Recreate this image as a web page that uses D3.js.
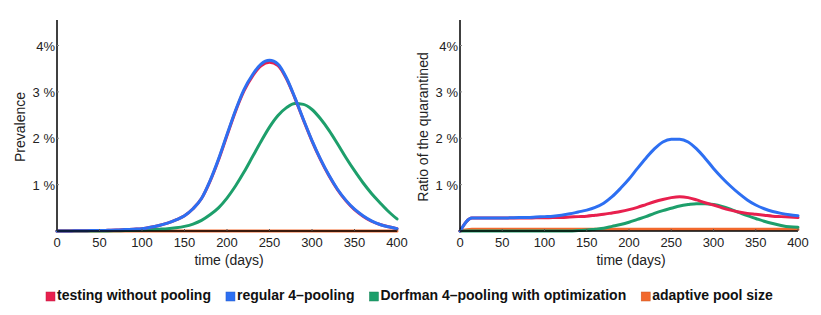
<!DOCTYPE html>
<html lang="en">
<head>
<meta charset="UTF-8">
<title>pooling</title>
<style type="text/css">
  body { margin: 0; background: #fff; }
  svg { font-family: "Liberation Sans", Arial, sans-serif; }
  .tick-label { font-size: 13px; fill: #222; }
  .axis-title { font-size: 14px; fill: #222; }
  .legend text { font-size: 14px; font-weight: bold; fill: #111; }
  .series { fill: none; stroke-width: 3px; stroke-linejoin: round; stroke-linecap: round; }
</style>
</head>
<body>
<svg id="chart" width="821" height="315"></svg>

<script src="https://cdnjs.cloudflare.com/ajax/libs/d3/7.8.5/d3.min.js"></script>
<script>
  "use strict";

  var days = [0, 14, 20, 30, 40, 50, 60, 70, 80, 90, 100, 110, 120, 130, 140, 150, 160, 170, 180, 190, 200,
              210, 220, 230, 240, 250, 260, 270, 280, 290, 300, 310, 320, 330, 340, 350, 360, 370, 380, 390, 400];

  // prevalence (%)
  var prevNoPool   = [0, 0, 0.005, 0.005, 0.01, 0.01, 0.015, 0.02, 0.03, 0.04, 0.05, 0.08, 0.12, 0.17, 0.24, 0.33, 0.48, 0.7, 1.07, 1.53, 2.06,
                      2.58, 3.02, 3.34, 3.56, 3.64, 3.57, 3.28, 2.86, 2.39, 1.94, 1.54, 1.19, 0.89, 0.65, 0.46, 0.32, 0.21, 0.14, 0.09, 0.05];
  var prevRegular  = [0, 0, 0.005, 0.005, 0.01, 0.01, 0.015, 0.02, 0.03, 0.04, 0.05, 0.08, 0.12, 0.17, 0.24, 0.33, 0.48, 0.7, 1.08, 1.55, 2.08,
                      2.6, 3.05, 3.37, 3.6, 3.68, 3.6, 3.3, 2.87, 2.4, 1.95, 1.55, 1.2, 0.9, 0.66, 0.47, 0.33, 0.22, 0.14, 0.09, 0.05];
  var prevDorfman  = [0, 0, 0, 0, 0, 0, 0, 0.005, 0.01, 0.015, 0.02, 0.03, 0.04, 0.05, 0.07, 0.1, 0.15, 0.23, 0.35, 0.5, 0.71,
                      0.97, 1.27, 1.6, 1.93, 2.24, 2.49, 2.66, 2.75, 2.73, 2.62, 2.42, 2.17, 1.88, 1.58, 1.3, 1.04, 0.81, 0.61, 0.42, 0.26];
  var prevAdaptive = [0, 0, 0, 0, 0, 0, 0, 0, 0, 0, 0, 0, 0, 0, 0, 0, 0, 0, 0, 0, 0,
                      0, 0, 0, 0, 0, 0, 0, 0, 0, 0, 0, 0, 0, 0, 0, 0, 0, 0, 0, 0];

  // ratio of the quarantined (%)
  var quarNoPool   = [0, 0.28, 0.28, 0.28, 0.28, 0.28, 0.28, 0.28, 0.28, 0.285, 0.285, 0.29, 0.29, 0.3, 0.31, 0.32, 0.34, 0.36, 0.39, 0.42, 0.46,
                      0.51, 0.57, 0.63, 0.68, 0.72, 0.74, 0.72, 0.67, 0.61, 0.56, 0.5, 0.45, 0.41, 0.38, 0.36, 0.34, 0.32, 0.31, 0.3, 0.29];
  var quarRegular  = [0, 0.28, 0.28, 0.28, 0.28, 0.28, 0.285, 0.29, 0.29, 0.3, 0.31, 0.32, 0.34, 0.37, 0.41, 0.45, 0.51, 0.6, 0.74, 0.92, 1.12,
                      1.35, 1.57, 1.77, 1.92, 1.98, 1.98, 1.92, 1.77, 1.57, 1.35, 1.15, 0.97, 0.81, 0.67, 0.56, 0.48, 0.42, 0.38, 0.35, 0.33];
  var quarDorfman  = [0, 0, 0, 0, 0, 0, 0, 0, 0, 0, 0, 0, 0, 0, 0.01, 0.02, 0.04, 0.06, 0.1, 0.14, 0.19,
                      0.25, 0.31, 0.38, 0.44, 0.49, 0.54, 0.57, 0.59, 0.59, 0.57, 0.53, 0.47, 0.4, 0.33, 0.27, 0.21, 0.16, 0.12, 0.09, 0.08];
  var quarAdaptive = [0, 0.04, 0.04, 0.04, 0.04, 0.04, 0.04, 0.04, 0.04, 0.04, 0.04, 0.04, 0.04, 0.04, 0.04, 0.04, 0.04, 0.04, 0.04, 0.04, 0.04,
                      0.04, 0.04, 0.04, 0.04, 0.04, 0.04, 0.04, 0.04, 0.04, 0.04, 0.04, 0.04, 0.04, 0.04, 0.04, 0.04, 0.04, 0.04, 0.04, 0.04];

  var xTicks = [0, 50, 100, 150, 200, 250, 300, 350, 400];
  var yTicks = [1, 2, 3, 4];
  var yTickLabels = ["1 %", "2 %", "3 %", "4%"];

  var seriesNames = ["testing without pooling", "regular 4\u2013pooling", "Dorfman 4\u2013pooling with optimization", "adaptive pool size"];
  var colors = ["#e8204e", "#2d6ff2", "#1d9f6b", "#f2692d"];

  var svg = d3.select("#chart");

  function panel(left, right, title, values) {
    var x = d3.scaleLinear().domain([0, 400]).range([left, right]);
    var y = d3.scaleLinear().domain([0, 4.55]).range([231, 20]);
    var g = svg.append("g");

    var line = d3.line()
      .x(function(d){ return x(d[0]); })
      .y(function(d){ return y(d[1]); })
      .curve(d3.curveMonotoneX);

    // draw order: adaptive, dorfman, no pooling, regular on top
    [3, 2, 0, 1].forEach(function(k){
      g.append("path")
        .attr("class", "series")
        .attr("stroke", colors[k])
        .attr("d", line(days.map(function(d, i){ return [d, values[k][i]]; })));
    });

    // axes
    g.append("line").attr("x1", x(0)).attr("x2", x(400)).attr("y1", y(0)).attr("y2", y(0))
      .attr("stroke", "#000").attr("stroke-width", 1.5);
    g.append("line").attr("x1", x(0)).attr("x2", x(0)).attr("y1", y(0)).attr("y2", y(4.55))
      .attr("stroke", "#000").attr("stroke-width", 1.5);

    g.selectAll(".xt").data(xTicks).enter().append("line")
      .attr("x1", function(d){ return x(d); }).attr("x2", function(d){ return x(d); })
      .attr("y1", y(0)).attr("y2", y(0) - 2).attr("stroke", "#555");
    g.selectAll(".xl").data(xTicks).enter().append("text")
      .attr("class", "tick-label")
      .attr("x", function(d){ return x(d); })
      .attr("y", 247)
      .attr("text-anchor", "middle")
      .text(function(d){ return d; });

    g.selectAll(".yt").data(yTicks).enter().append("line")
      .attr("x1", x(0)).attr("x2", x(0) + 2)
      .attr("y1", function(d){ return y(d); }).attr("y2", function(d){ return y(d); })
      .attr("stroke", "#888");
    g.selectAll(".yl").data(yTicks).enter().append("text")
      .attr("class", "tick-label")
      .attr("x", x(0) - 2)
      .attr("y", function(d){ return y(d) + 5; })
      .attr("text-anchor", "end")
      .text(function(d, i){ return yTickLabels[i]; });

    g.append("text").attr("class", "axis-title")
      .attr("x", (left + right) / 2 + 2).attr("y", 265)
      .attr("text-anchor", "middle").text("time (days)");
    g.append("text").attr("class", "axis-title")
      .attr("transform", "translate(" + (left - 32) + ",127) rotate(-90)")
      .attr("text-anchor", "middle").text(title);
  }

  panel(57, 397, "Prevalence", [prevNoPool, prevRegular, prevDorfman, prevAdaptive]);
  panel(460, 798, "Ratio of the quarantined", [quarNoPool, quarRegular, quarDorfman, quarAdaptive]);

  // legend
  var legend = svg.append("g").attr("class", "legend");
  var lx = 46;
  seriesNames.forEach(function(name, i){
    legend.append("rect")
      .attr("x", lx).attr("y", 292).attr("width", 9).attr("height", 9)
      .attr("fill", colors[i]).attr("stroke", d3.color(colors[i]).darker(0.5)).attr("stroke-width", 0.5);
    var t = legend.append("text").attr("x", lx + 11).attr("y", 300).text(name);
    lx += 11 + t.node().getComputedTextLength() + 15;
  });
</script>
</body>
</html>
